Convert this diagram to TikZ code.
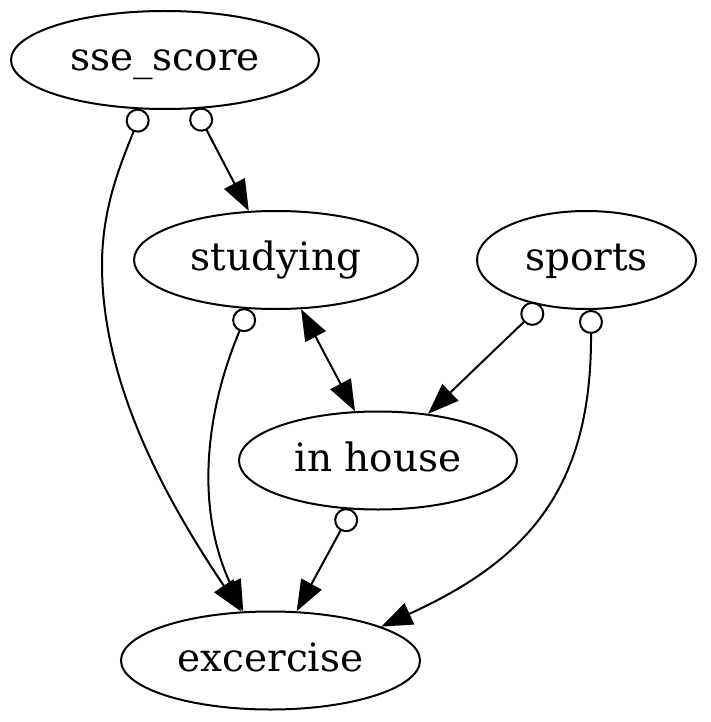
\documentclass[tikz,border=0pt]{standalone}
\usepackage{fontspec}
\setmainfont{DejaVu Serif}
\usetikzlibrary{arrows.meta,shapes.geometric}
\begin{document}
\begin{tikzpicture}[x=1pt,y=-1pt,
  gnode/.style={draw, ellipse, line width=2pt, inner sep=0pt, minimum height=98pt, text height=30pt, text depth=9pt, font=\fontsize{39}{44}\selectfont},
  oedge/.style={line width=2pt, {Circle[open,length=24pt,width=24pt]}-{Triangle[length=31pt,width=23pt]}},
  bedge/.style={line width=2pt, {Triangle[length=31pt,width=23pt]}-{Triangle[length=31pt,width=23pt]}},
]
\useasboundingbox (0,0) rectangle (710,722);
\node[gnode, minimum width=308pt] (sse) at (165,60) {sse\_score};
\node[gnode, minimum width=284pt] (stu) at (276,260) {studying};
\node[gnode, minimum width=219pt] (spo) at (586.5,260) {sports};
\node[gnode, minimum width=278pt] (inh) at (378,460.5) {in house};
\node[gnode, minimum width=299pt] (exc) at (270.5,660.5) {excercise};

\draw[oedge] (sse.-115) .. controls (123,159) and (102,204.5) .. (102,265) .. controls (102,387) and (169,504) .. (exc.121);
\draw[oedge] (sse.-58) -- (stu.119);
\draw[oedge] (stu.-119) .. controls (204,415) and (196,510) .. (exc.119);
\draw[bedge] (stu.-63) -- (inh.115.6);
\draw[oedge] (spo.-135.6) -- (inh.43.8);
\draw[oedge] (spo.-85.5) .. controls (592,486) and (530,559) .. (exc.17.3);
\draw[oedge] (inh.-118.4) -- (exc.62);
\end{tikzpicture}
\end{document}
